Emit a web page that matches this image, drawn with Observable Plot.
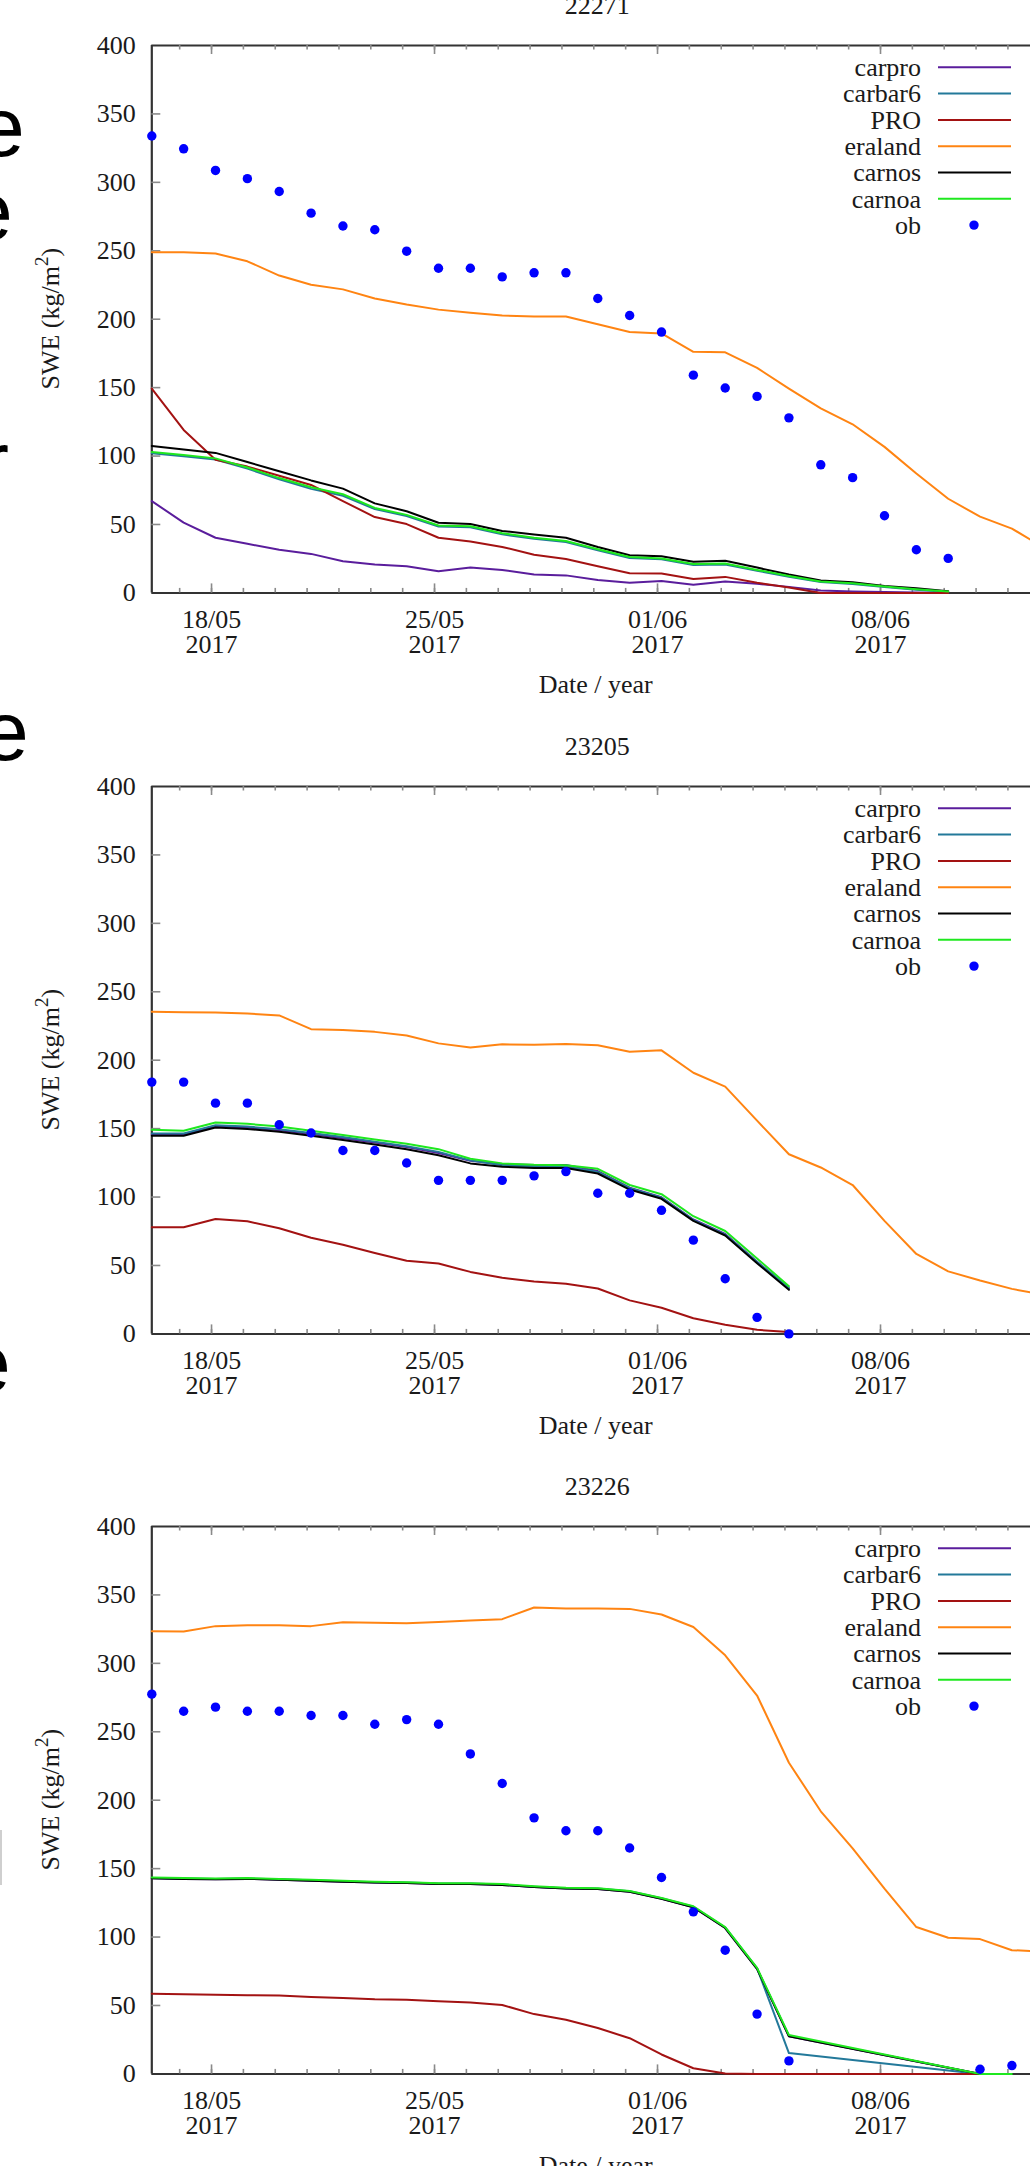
<!DOCTYPE html>
<html>
<head>
<meta charset="utf-8">
<script src="https://cdn.jsdelivr.net/npm/d3@7"></script>
<script src="https://cdn.jsdelivr.net/npm/@observablehq/plot@0.6"></script>
<style>
html, body { margin: 0; padding: 0; background: #fff; overflow: hidden; width: 1030px; height: 2166px; }
#wrap { position: relative; width: 1030px; height: 2166px; overflow: hidden; background: #fff; }
.panel { position: absolute; left: 0; }
#wrap svg.panel, #wrap svg.panel text, #wrap svg.panel tspan {
  font-family: "Liberation Serif", "Times New Roman", "DejaVu Serif", serif !important;
}
</style>
</head>
<body>
<div id="wrap"></div>
<script>
// ---------- data ----------
const dates = [
  "2017-05-16T03:00Z","2017-05-17T03:00Z","2017-05-18T03:00Z","2017-05-19T03:00Z","2017-05-20T03:00Z",
  "2017-05-21T03:00Z","2017-05-22T03:00Z","2017-05-23T03:00Z","2017-05-24T03:00Z","2017-05-25T03:00Z",
  "2017-05-26T03:00Z","2017-05-27T03:00Z","2017-05-28T03:00Z","2017-05-29T03:00Z","2017-05-30T03:00Z",
  "2017-05-31T03:00Z","2017-06-01T03:00Z","2017-06-02T03:00Z","2017-06-03T03:00Z","2017-06-04T03:00Z",
  "2017-06-05T03:00Z","2017-06-06T03:00Z","2017-06-07T03:00Z","2017-06-08T03:00Z","2017-06-09T03:00Z",
  "2017-06-10T03:00Z","2017-06-11T03:00Z","2017-06-12T03:00Z","2017-06-13T03:00Z"
];
const xDomain = ["2017-05-16T03:00Z", "2017-06-12T17:00Z"];
const majorTickDates = ["2017-05-18T00:00Z", "2017-05-25T00:00Z", "2017-06-01T00:00Z", "2017-06-08T00:00Z"];
const majorTickLabels = ["18/05\n2017", "25/05\n2017", "01/06\n2017", "08/06\n2017"];
const yTicks = [0, 50, 100, 150, 200, 250, 300, 350, 400];
const seriesNames = ["carpro", "carbar6", "PRO", "eraland", "carnos", "carnoa"];
const seriesColors = ["#5a1d9c", "#23799a", "#a31212", "#ff8412", "#000000", "#1fe81f"];
const obName = "ob";
const obColor = "#0000ff";
const stationTitles = ["22271", "23205", "23226"];
const N = null;

// station 22271
const s22271_carpro  = [67.1,51.3,40.3,35.9,31.5,28.5,23.2,20.8,19.5,15.8,18.5,16.8,13.4,12.8,9.4,7.4,8.7,6.0,8.4,6.7,4.4,1.7,1.0,0.7,0.3,0,N,N,N];
const s22271_carbar6 = [102,99.8,97.5,90.8,83,76,71,61.3,56.2,48.5,48,42.8,39.5,37.2,31.2,25.5,24.6,20.4,20.8,16.2,11.8,7.9,6.5,4.3,2.3,0.6,N,N,N];
const s22271_PRO     = [149.3,119.1,97.3,92.3,85.6,78.9,67.1,55.4,50.3,40.3,37.6,33.6,27.9,24.8,19.5,14.4,14.1,10.1,11.7,7.4,4.0,0,0,0,0,0,N,N,N];
const s22271_eraland = [249,249,248,242.3,231.9,225.2,221.8,215.1,210.7,207,204.7,202.7,202,202,196.3,190.6,189.6,176.2,175.8,164.4,149.3,134.9,123.2,106.7,87.2,68.8,55.7,47,33];
const s22271_carnos  = [107.4,104.7,102.3,95.6,88.9,82.2,76.2,65.4,59.7,51.3,50.3,45.3,42.6,40.3,33.6,27.5,26.8,22.8,23.5,18.5,13.4,9.1,7.7,5.0,3.4,1.3,N,N,N];
const s22271_carnoa  = [103,100.7,98.3,91.6,83.9,77.2,72.1,62.1,57,49.3,48.7,43.6,40.3,37.9,31.9,26.2,25.2,21.1,21.5,16.8,12.4,8.4,7.0,4.7,2.7,1.0,N,N,N];
const s22271_ob      = [333.9,324.5,308.7,302.7,293.3,277.5,268.1,265.4,249.7,237.2,237.2,230.9,233.9,233.9,215.1,202.7,190.6,159.1,149.7,143.6,127.9,93.6,84.2,56.4,31.5,25.2,N,N,N];

// station 23205
const s23205_carpro  = [145.5,145.5,151.8,150.8,148.8,146,143,139.8,136.5,132.2,126.5,124,123.5,123.5,119,106.8,99.8,83.6,73,52.8,33.2,N,N,N,N,N,N,N,N];
const s23205_carbar6 = [146.5,146.5,152.5,151.5,149.5,146.8,143.8,140.5,137.2,133,126.8,123.2,122.3,122.2,118.3,106.5,99.5,83.2,72.5,52.5,33.5,N,N,N,N,N,N,N,N];
const s23205_PRO     = [77.9,77.9,84,82.3,77.2,70.2,65.2,59.1,53.4,51.4,45.3,41,38.3,36.6,33.2,24.5,19.1,11.4,6.7,3,1.3,N,N,N,N,N,N,N,N];
const s23205_eraland = [235.4,235.1,234.8,234.1,232.7,222.7,222,220.7,218,212.3,209.2,211.6,211.2,211.9,210.9,206.2,207.2,190.8,180.7,155.8,131.3,121.6,108.8,82.6,58.4,45.7,39,32.9,28.5];
const s23205_carnos  = [144.8,144.8,150.8,149.8,147.8,144.8,141.7,138.4,135,130.6,124.6,122.2,121.2,121.2,117.2,105.5,98.7,82.6,71.9,51.7,32.2,N,N,N,N,N,N,N,N];
const s23205_carnoa  = [149.1,148.4,154.5,153.5,151.5,148.4,145.4,142.1,139,135,128,124.6,123.6,123.3,120.6,108.8,102.1,86,75.2,55.1,34.9,N,N,N,N,N,N,N,N];
const s23205_ob      = [184,184,168.6,168.6,152.8,146.8,134,134,124.9,112.2,112.2,112.2,115.5,118.6,102.8,102.8,90.3,68.5,40.3,12.1,0,N,N,N,N,N,N,N,N];

// station 23226
const s23226_carpro  = [142.9,142.5,142.2,142.5,141.9,141.2,140.5,139.8,139.5,138.8,138.8,138.1,136.5,135.4,135.1,133.1,128,121.8,106.6,76.8,27.5,N,N,N,N,N,0,0,N];
const s23226_carbar6 = [143.2,142.8,142.5,142.8,142.2,141.5,140.8,140.1,139.8,139.1,139.1,138.4,136.8,135.7,135.4,133.4,128.3,122.1,107,77.2,15.2,N,N,N,N,N,0,0,N];
const s23226_PRO     = [58.5,58.2,57.9,57.5,57.2,56.2,55.5,54.5,54.1,53.1,52.1,50.4,43.7,39.6,33.5,26.1,14.2,4.1,0.3,0,0,N,N,N,N,N,0,0,N];
const s23226_eraland = [323.5,323.2,327.2,327.9,327.9,327.2,330,329.6,329.3,330.3,331.3,332.3,340.8,340.1,340.1,339.8,335.7,326.6,305.9,276.5,227.4,191.9,164.8,135.4,107.3,99.5,98.5,90.4,89.5];
const s23226_carnos  = [142.9,142.5,142.2,142.5,141.9,141.2,140.5,139.8,139.5,138.8,138.8,138.1,136.5,135.4,135.1,133.1,128,121.8,106.6,76.8,27.5,N,N,N,N,N,0,0,N];
const s23226_carnoa  = [143.5,143.1,142.8,143.1,142.5,141.8,141.1,140.4,140.1,139.4,139.4,138.7,137.1,136,135.7,133.7,128.6,122.5,107.3,77.5,28.4,N,N,N,N,N,0,0,N];
const s23226_ob      = [277.5,265,268,265,265,261.9,261.9,255.5,258.9,255.5,233.8,212.2,187.1,177.7,177.7,165.1,143.5,118.4,90.4,43.7,9.5,N,N,N,N,N,3.4,6.1,N];

const stations = [
  {title: stationTitles[0], series: [s22271_carpro, s22271_carbar6, s22271_PRO, s22271_eraland, s22271_carnos, s22271_carnoa], ob: s22271_ob},
  {title: stationTitles[1], series: [s23205_carpro, s23205_carbar6, s23205_PRO, s23205_eraland, s23205_carnos, s23205_carnoa], ob: s23205_ob},
  {title: stationTitles[2], series: [s23226_carpro, s23226_carbar6, s23226_PRO, s23226_eraland, s23226_carnos, s23226_carnoa], ob: s23226_ob}
];

// ---------- layout ----------
const W = 1030, H = 740, ML = 151.3, MT = 70, PH = 547.4, MB = H - MT - PH;
const panelTops = [-25, 715.5, 1455.5];
const FONT = "'Liberation Serif', 'Times New Roman', 'DejaVu Serif', serif";
const TXT = "#1a1a1a";
const AXIS = "#333333";
const TICK = "#8a8a8a";

const x0 = new Date(xDomain[0]), x1 = new Date(xDomain[1]);
const DAY = 864e5;
const pxPerDay = (W - ML) / ((x1 - x0) / DAY);
const majorLenY = 9 * 400 / PH, minorLenY = 4.5 * 400 / PH;
const yTickLenX = 9 / pxPerDay * DAY;
const minorDays = d3.utcDay.range(new Date("2017-05-17T00:00Z"), new Date("2017-06-13T00:00Z"));
const majorDates = majorTickDates.map(d => new Date(d));

function rows(vals) {
  return vals.map((v, i) => ({date: new Date(dates[i]), v})).filter(d => d.v != null);
}

const wrap = document.getElementById("wrap");

stations.forEach((st, p) => {
  const marks = [
    Plot.ruleY([0, 400], {stroke: AXIS, strokeWidth: 2}),
    Plot.ruleX([x0], {stroke: AXIS, strokeWidth: 2.2}),
    Plot.ruleX(minorDays, {x: d => d, y1: () => 0, y2: () => minorLenY, stroke: TICK, strokeWidth: 1.6}),
    Plot.ruleX(minorDays, {x: d => d, y1: () => 400, y2: () => 400 - minorLenY, stroke: TICK, strokeWidth: 1.6}),
    Plot.ruleX(majorDates, {x: d => d, y1: () => 0, y2: () => majorLenY, stroke: TICK, strokeWidth: 1.6}),
    Plot.ruleX(majorDates, {x: d => d, y1: () => 400, y2: () => 400 - majorLenY, stroke: TICK, strokeWidth: 1.6}),
    Plot.ruleY(yTicks.slice(1, -1), {y: d => d, x1: () => x0, x2: () => new Date(+x0 + yTickLenX), stroke: TICK, strokeWidth: 1.6}),
    Plot.text(majorDates, {x: d => d, y: () => 0, text: (d, i) => majorTickLabels[i], lineAnchor: "top", dy: 17, lineHeight: 0.97, fontSize: 26, fill: TXT, fontFamily: FONT}),
    Plot.text(yTicks, {x: () => x0, y: d => d, text: d => String(d), textAnchor: "end", dx: -16, fontSize: 26, fill: TXT, fontFamily: FONT}),
    Plot.text([st.title], {frameAnchor: "top", dx: 6, dy: -39.7, lineAnchor: "middle", fontSize: 26, fill: TXT, fontFamily: FONT}),
    Plot.text(["Date / year"], {frameAnchor: "bottom", dx: 4.5, dy: 92, lineAnchor: "middle", fontSize: 26, fill: TXT, fontFamily: FONT})
  ];
  st.series.forEach((vals, k) => {
    marks.push(Plot.line(rows(vals), {x: "date", y: "v", stroke: seriesColors[k], strokeWidth: 2, strokeLinejoin: "round"}));
  });
  marks.push(Plot.dot(rows(st.ob), {x: "date", y: "v", r: 4.7, fill: obColor, stroke: "none"}));

  const svg = Plot.plot({
    width: W, height: H,
    marginLeft: ML, marginRight: 0, marginTop: MT, marginBottom: MB,
    x: {type: "utc", domain: [x0, x1], axis: null},
    y: {domain: [0, 400], axis: null},
    style: {fontFamily: FONT, fontSize: "26px", background: "transparent", color: TXT},
    marks
  });
  svg.classList.add("panel");
  svg.style.position = "absolute";
  svg.style.top = panelTops[p] + "px";
  svg.style.left = "0px";
  svg.style.maxWidth = "none";
  svg.style.fontFamily = FONT;

  const g = d3.select(svg).append("g").style("font-family", FONT).attr("font-size", 26).attr("fill", TXT);

  const cy = MT + PH / 2;
  const lab = g.append("text").attr("transform", `translate(59,${cy}) rotate(-90)`).attr("text-anchor", "middle");
  lab.append("tspan").text("SWE (kg/m");
  lab.append("tspan").attr("dy", -11).attr("font-size", 19).text("2");
  lab.append("tspan").attr("dy", 11).text(")");

  const names = seriesNames.concat([obName]);
  names.forEach((name, k) => {
    const yy = MT + 22.3 + 26.3 * k;
    g.append("text").attr("x", 921).attr("y", yy).attr("dy", "0.34em").attr("text-anchor", "end").text(name);
    if (k < seriesNames.length) {
      g.append("line").attr("x1", 938).attr("x2", 1011).attr("y1", yy).attr("y2", yy)
        .attr("stroke", seriesColors[k]).attr("stroke-width", 2);
    } else {
      g.append("circle").attr("cx", 974).attr("cy", yy).attr("r", 4.7).attr("fill", obColor);
    }
  });

  wrap.appendChild(svg);
});

// clipped fragments of the neighbouring page text at the far left edge
const frag = d3.select(wrap).append("svg")
  .attr("width", 80).attr("height", 2166)
  .style("position", "absolute").style("left", "0px").style("top", "0px")
  .style("font-family", "'Liberation Sans', Arial, sans-serif").attr("font-size", 84).attr("fill", "#000");
const fragLetters = [
  {t: "e", x: -22, y: 156},
  {t: "e", x: -34, y: 240},
  {t: "r", x: -19, y: 490},
  {t: "e", x: -18, y: 760},
  {t: "e", x: -36, y: 1392}
];
fragLetters.forEach(f => frag.append("text").attr("x", f.x).attr("y", f.y).text(f.t));
frag.append("rect").attr("x", 0).attr("y", 1830).attr("width", 2).attr("height", 55).attr("fill", "#cfcfcf");
</script>
</body>
</html>
